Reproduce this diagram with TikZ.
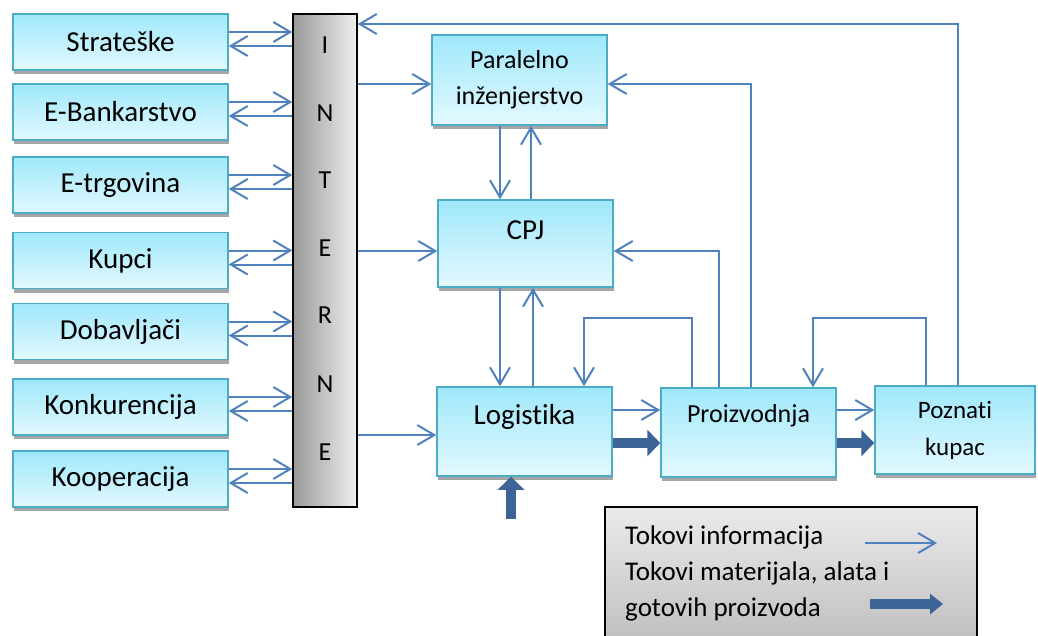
\documentclass[tikz,border=0pt]{standalone}
\usepackage{fontspec}
\setmainfont{Carlito}[Ligatures=NoCommon]
\usetikzlibrary{arrows.meta,shadows}
\definecolor{infoblue}{HTML}{4F81BD}
\definecolor{matblue}{HTML}{3C6496}
\definecolor{boxedge}{HTML}{4BACC6}
\definecolor{boxtop}{HTML}{9FE8FB}
\definecolor{boxbot}{HTML}{E3F9FE}

\begin{document}
\begin{tikzpicture}[x=1pt,y=-1pt,
    box/.style={draw=boxedge, line width=1.5pt, top color=boxtop, bottom color=boxbot,
        drop shadow={shadow xshift=1pt, shadow yshift=-4pt, fill=black!35, opacity=1},
        inner sep=0pt, font=\fontsize{29}{36}\selectfont},
    side/.style={box, minimum width=215pt, minimum height=56pt},
    txt/.style={font=\fontsize{29}{36}\selectfont, inner sep=0pt},
    info/.style={draw=infoblue, line width=2pt, -{Straight Barb[length=17pt,width=20pt]}},
    matl/.style={draw=matblue, line width=10pt, -{Triangle[length=13pt,width=26pt]}}
]
    
    \useasboundingbox (0,0) rectangle (1038,635);
    
    % internet bar
    \node[draw=black, line width=1.5pt, left color=black!40, right color=black!6,
        minimum width=64pt, minimum height=493pt, inner sep=0pt] (bar) at (325,260.5) {};
    \foreach \c/\y [count=\i] in {I/45,N/113,T/180,E/248,R/315,N/384,E/452} {
        \node[txt, font=\fontsize{26}{30}\selectfont] (let\i) at (325,\y) {\c};
    }
    
    \foreach \nm/\y/\txt in {strat/42/Strateške, ebank/112/E-Bankarstvo, etrg/185/E-trgovina,
        kupci/260.5/Kupci, dobav/331.5/Dobavljači, konk/407/Konkurencija, koop/479/Kooperacija} {
        \node[side] (\nm) at (120.5,\y) {\txt};
        \draw[info] ([yshift=10pt]\nm.east) to ([yshift=10pt]\nm.east -| bar.west);
        \draw[info] ([yshift=-4pt]\nm.east -| bar.west) to ([yshift=-4pt]\nm.east);
    }
    
    \node[box, minimum width=175pt, minimum height=90pt, align=center,
        font=\fontsize{26}{36}\selectfont] (par) at (519.5,80) {Paralelno\\inženjerstvo};
    \node[box, minimum width=175pt, minimum height=87pt] (cpj) at (525.5,243.5) {};
    \node[txt] (cpjlab) at ([yshift=13pt]cpj.center) {CPJ};
    \node[box, minimum width=175pt, minimum height=89pt] (log) at (524.5,431.5) {};
    \node[txt] (loglab) at ([yshift=15pt]log.center) {Logistika};
    \node[box, minimum width=175pt, minimum height=89pt] (proiz) at (748.5,432.5) {};
    \node[txt, font=\fontsize{26}{30}\selectfont] (proizlab) at ([yshift=17pt]proiz.center) {Proizvodnja};
    \node[box, minimum width=160pt, minimum height=88pt, align=center,
        font=\fontsize{25}{37}\selectfont] (pozn) at (955,430) {Poznati\\kupac};
    
    % information flows
    \draw[info] ([xshift=3pt]pozn.north) |- (bar.east |- 0,24);
    \draw[info] (bar.east |- 0,84) to (par.west |- 0,84);
    \draw[info] (proiz.north -| 751,0) |- (par.east |- 0,84);
    \draw[info] (bar.east |- 0,251) to (cpj.west |- 0,251);
    \draw[info] (proiz.north -| 719,0) |- (cpj.east |- 0,251);
    \draw[info] (par.south -| 500,0) to (cpj.north -| 500,0);
    \draw[info] (cpj.north -| 531,0) to (par.south -| 531,0);
    \draw[info] (cpj.south -| 500,0) to (log.north -| 500,0);
    \draw[info] (log.north -| 533,0) to (cpj.south -| 533,0);
    \draw[info] (proiz.north -| 692,0) |- (584,318) to (log.north -| 584,0);
    \draw[info] (pozn.north -| 926,0) |- (813,318) to (proiz.north -| 813,0);
    \draw[info] (bar.east |- 0,435) to (log.west |- 0,435);
    \draw[info] (log.east |- 0,410) to (proiz.west |- 0,410);
    \draw[info] (proiz.east |- 0,410) to (pozn.west |- 0,410);
    
    % material flows
    \draw[matl] (log.east |- 0,443) to (proiz.west |- 0,443);
    \draw[matl] (proiz.east |- 0,443) to (pozn.west |- 0,443);
    \coordinate (supply) at (511,519);
    \draw[matl] (supply) to (log.south -| supply);
    
    % legend
    \node[draw=black, line width=2.5pt, top color=black!8, bottom color=black!25,
        minimum width=372pt, minimum height=135pt, inner sep=0pt] (legend) at (791,574.5) {};
    \node[txt, align=left, anchor=west, font=\fontsize{27}{36}\selectfont] (legtxt) at (625,573)
        {Tokovi informacija\\Tokovi materijala, alata i\\gotovih proizvoda};
    \coordinate (infoA) at (865,543);
    \coordinate (infoB) at (937,543);
    \draw[info] (infoA) to (infoB);
    \coordinate (matA) at (870,604);
    \coordinate (matB) at (943,604);
    \draw[matl, -{Triangle[length=13pt,width=20pt]}] (matA) to (matB);
    
\end{tikzpicture}
\end{document}
